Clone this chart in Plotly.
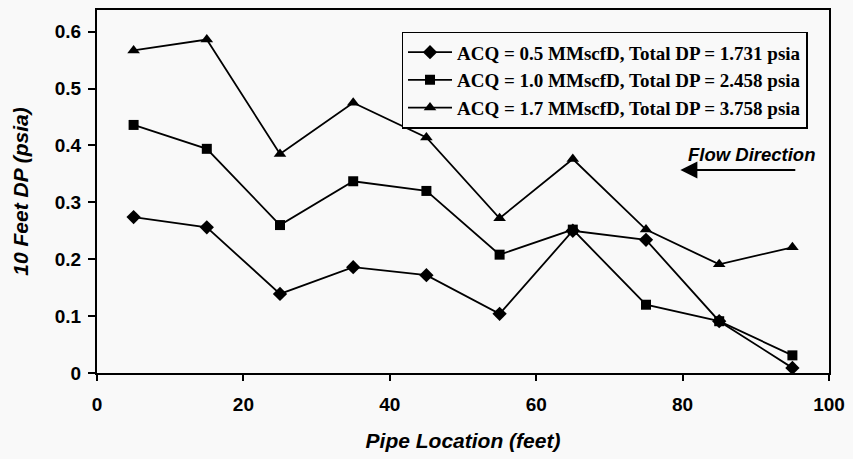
import plotly.graph_objects as go

x_loc = [5, 15, 25, 35, 45, 55, 65, 75, 85, 95]
dp_05 = [0.274, 0.256, 0.139, 0.186, 0.172, 0.104, 0.250, 0.234, 0.091, 0.009]
dp_10 = [0.436, 0.394, 0.260, 0.337, 0.320, 0.208, 0.252, 0.120, 0.091, 0.031]
dp_17 = [0.567, 0.586, 0.385, 0.475, 0.414, 0.272, 0.376, 0.252, 0.191, 0.221]
names = ["ACQ = 0.5 MMscfD, Total DP = 1.731 psia",
         "ACQ = 1.0 MMscfD, Total DP = 2.458 psia",
         "ACQ = 1.7 MMscfD, Total DP = 3.758 psia"]
symbols = ["diamond", "square", "triangle-up"]
sizes = [11, 10, 11]

fig = go.Figure()
for ys, nm, sym, sz in zip([dp_05, dp_10, dp_17], names, symbols, sizes):
    fig.add_trace(go.Scatter(x=x_loc, y=ys, name=nm, mode="lines+markers",
                             line=dict(color="black", width=1.8),
                             marker=dict(symbol=sym, size=sz, color="black")))

title_font = dict(family="Liberation Sans", size=21, color="black", weight="bold", style="italic")
tick_font = dict(family="Liberation Sans", size=19, color="black", weight="bold")
fig.update_layout(
    width=853, height=459,
    margin=dict(l=97, r=21, t=8, b=86),
    paper_bgcolor="#f9f9f9", plot_bgcolor="#f9f9f9",
    showlegend=True,
    legend=dict(x=0.416, y=0.94, xanchor="left", yanchor="top",
                bordercolor="black", borderwidth=1.5, bgcolor="#f9f9f9",
                font=dict(family="Liberation Serif", size=19, color="black", weight="bold"),
                tracegroupgap=0, itemwidth=44),
    xaxis=dict(range=[0, 100], tickvals=[0, 20, 40, 60, 80, 100],
               showgrid=False, zeroline=False, showline=True, linecolor="black",
               linewidth=2, mirror=True, ticks="outside", ticklen=6, tickwidth=1.5,
               tickcolor="black", tickfont=tick_font, ticklabelstandoff=7,
               title=dict(text="Pipe Location (feet)", font=title_font, standoff=20)),
    yaxis=dict(range=[0, 0.638], tickvals=[0, 0.1, 0.2, 0.3, 0.4, 0.5, 0.6],
               ticktext=["0", "0.1", "0.2", "0.3", "0.4", "0.5", "0.6"],
               showgrid=False, zeroline=False, showline=True, linecolor="black",
               linewidth=2, mirror=True, ticks="outside", ticklen=7, tickwidth=1.5,
               tickcolor="black", tickfont=tick_font, ticklabelstandoff=3,
               title=dict(text="10 Feet DP (psia)", font=title_font, standoff=20)),
)

fig.add_annotation(x=79.7, y=0.357, ax=95.6, ay=0.357, xref="x", yref="y",
                   axref="x", ayref="y", text="", showarrow=True,
                   arrowhead=2, arrowsize=1.7, arrowwidth=2, arrowcolor="black")
fig.add_annotation(x=89.4, y=0.384, xref="x", yref="y", text="Flow Direction",
                   showarrow=False,
                   font=dict(family="Liberation Sans", size=18.5, color="black",
                             weight="bold", style="italic"))

fig.write_html("out.html")
